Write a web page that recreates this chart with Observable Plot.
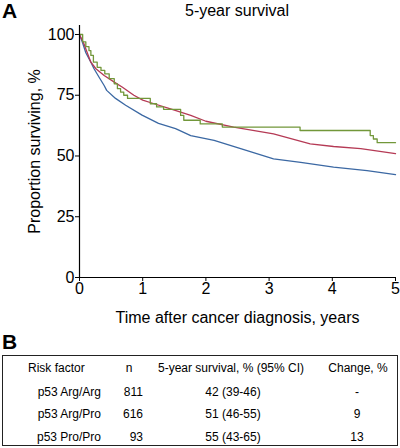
<!DOCTYPE html>
<html><head><meta charset="utf-8">
<script src="https://cdn.jsdelivr.net/npm/d3@7"></script>
<script src="https://cdn.jsdelivr.net/npm/@observablehq/plot@0.6"></script>
<style>
html,body{margin:0;padding:0;background:#fff;}
#wrap{position:relative;width:400px;height:448px;font-family:"Liberation Sans",Arial,sans-serif;color:#000;overflow:hidden;}
.abs{position:absolute;white-space:nowrap;}
.panel{font-weight:bold;font-size:21px;line-height:22px;}
#tbl{position:absolute;left:2px;top:355px;width:394px;height:89px;border:1.5px solid #222;}
.cell{position:absolute;font-size:12px;line-height:14px;white-space:nowrap;}
</style></head>
<body><div id="wrap">
<div class="abs panel" style="left:2px;top:0px;">A</div>
<div class="abs" id="title" style="left:237px;top:2px;font-size:16px;transform:translateX(-50%);">5-year survival</div>
<div id="chart" class="abs" style="left:0;top:0;"></div>
<div class="abs panel" style="left:2px;top:331px;">B</div>
<div id="tbl"></div>
</div>
<script>
// Survival curves (time in years, % surviving)
const argArgT = [0, 0.05, 0.1, 0.18, 0.23, 0.31, 0.39, 0.43, 0.57, 0.73, 0.99, 1.25, 1.52, 1.76, 2.13, 2.55, 3.07, 3.5, 4.02, 4.55, 5.0];
const argArgS = [100, 96.5, 92.5, 88.6, 85.9, 82.4, 79, 77, 73.7, 70.9, 66.8, 63.4, 61.3, 58.4, 56.4, 53, 48.8, 47.4, 45.4, 44, 42.3];
const argProT = [0, 0.07, 0.13, 0.18, 0.26, 0.39, 0.55, 0.68, 0.86, 1.0, 1.18, 1.44, 1.76, 2.0, 2.44, 3.07, 3.65, 4.02, 4.45, 5.0];
const argProS = [100, 96.2, 92, 88.6, 85.9, 83.1, 80.4, 78.3, 75, 73, 71.5, 69.4, 66.7, 64.3, 61.9, 59.1, 55, 53.9, 53, 51];
const proProT = [0, 0.05, 0.1, 0.15, 0.18, 0.22, 0.28, 0.34, 0.4, 0.47, 0.55, 0.6, 0.65, 0.7, 0.76, 1.12, 1.22, 1.33, 1.6, 1.65, 1.91, 2.26, 3.49, 4.6, 4.65, 4.71, 5.0];
const proProS = [100, 97, 95, 93.4, 91.4, 88.6, 86.5, 85.2, 83.8, 81.8, 79.7, 77.7, 76.3, 75, 73.7, 71.5, 70.2, 69.2, 66.7, 64.7, 63.2, 61.9, 60.5, 58.4, 57, 55.5, 55.5];
const xTicks = [0, 1, 2, 3, 4, 5];
const yTicks = [0, 25, 50, 75, 100];

// Table
const tableHeader = ["Risk factor", "n", "5-year survival, % (95% CI)", "Change, %"];
const riskFactors = ["p53 Arg/Arg", "p53 Arg/Pro", "p53 Pro/Pro"];
const nValues = [811, 616, 93];
const survivalText = ["42 (39-46)", "51 (46-55)", "55 (43-65)"];
const changeText = ["-", "9", "13"];

const toRows = (T, S) => T.map((t, i) => ({t, s: S[i]}));

const chart = Plot.plot({
  width: 400, height: 330,
  marginLeft: 79, marginRight: 5, marginTop: 25, marginBottom: 53,
  style: {fontFamily: '"Liberation Sans", Arial, sans-serif', fontSize: "16px", color: "#000", background: "transparent", overflow: "visible"},
  x: {domain: [0, 5]},
  y: {domain: [0, 103.7]},
  marks: [
    Plot.axisX({ticks: xTicks, tickFormat: d3.format("d"), tickSize: 4, tickPadding: 1, fontSize: 16, label: "Time after cancer diagnosis, years", labelAnchor: "center", labelArrow: "none", labelOffset: 45}),
    Plot.axisY({ticks: yTicks, tickFormat: d3.format("d"), tickSize: 4, tickPadding: 1, fontSize: 16, label: "Proportion surviving, %", labelAnchor: "center", labelArrow: "none", labelOffset: 51}),
    Plot.line(toRows(argArgT, argArgS), {x: "t", y: "s", stroke: "#3b68a3", strokeWidth: 1.3}),
    Plot.line(toRows(argProT, argProS), {x: "t", y: "s", stroke: "#b53a55", strokeWidth: 1.3}),
    Plot.line(toRows(proProT, proProS), {x: "t", y: "s", stroke: "#72973a", strokeWidth: 1.3, curve: "step-after"}),
    Plot.ruleX([0], {stroke: "#000", strokeWidth: 1.2}),
    Plot.ruleY([0], {stroke: "#000", strokeWidth: 1.2})
  ]
});
document.getElementById("chart").appendChild(chart);

// Build table cells
const tbl = document.getElementById("tbl");
function cell(text, x, y, align) {
  const d = document.createElement("div");
  d.className = "cell";
  d.textContent = text;
  const tx = align === "left" ? "0" : align === "right" ? "-100%" : "-50%";
  d.style.left = x + "px";
  d.style.top = y + "px";
  d.style.transform = `translate(${tx}, -50%)`;
  tbl.appendChild(d);
}
const off = 2, topOff = 355;
cell(tableHeader[0], 27 - off, 367 - topOff, "left");
cell(tableHeader[1], 128 - off, 367 - topOff, "center");
cell(tableHeader[2], 230 - off, 367 - topOff, "center");
cell(tableHeader[3], 357 - off, 367 - topOff, "center");
const rowY = [391, 413, 436];
riskFactors.forEach((r, i) => {
  const y = rowY[i] - topOff;
  cell(r, 100 - off, y, "right");
  cell(String(nValues[i]), 142 - off, y, "right");
  cell(survivalText[i], 232 - off, y, "center");
  cell(changeText[i], 356 - off, y, "center");
});
</script>
</body></html>
